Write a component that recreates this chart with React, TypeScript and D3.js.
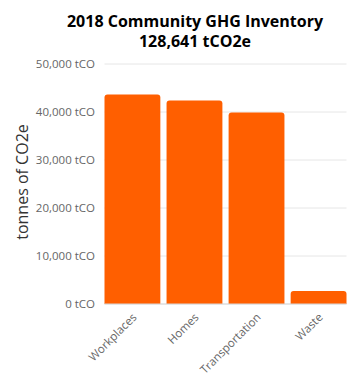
import React from "react";
import * as d3 from "d3";

const categories = ["Workplaces", "Homes", "Transportation", "Waste"];
const values = [43650, 42400, 39900, 2691];
const yTicks = [0, 10000, 20000, 30000, 40000, 50000];
const titleLines = ["2018 Community GHG Inventory", "128,641 tCO2e"];
const yAxisTitle = "tonnes of CO2e";

const W = 360;
const H = 389;
const M = { left: 104.5, right: 13.5, top: 64, bottom: 85 };
const FONT = "'Open Sans', sans-serif";

export default function App() {
  const x = d3
    .scaleBand<string>()
    .domain(categories)
    .range([M.left, W - M.right])
    .paddingInner(0.1)
    .paddingOuter(0);
  const y = d3.scaleLinear().domain([0, 50000]).range([H - M.bottom, M.top]);
  const fmt = d3.format(",");
  const r = 3;

  const barPath = (x0: number, y0: number, w: number, h: number) => {
    const rr = Math.min(r, h / 2, w / 2);
    return `M${x0},${y0 + h}V${y0 + rr}Q${x0},${y0} ${x0 + rr},${y0}H${x0 + w - rr}Q${x0 + w},${y0} ${x0 + w},${y0 + rr}V${y0 + h}Z`;
  };

  return (
    <svg width={W} height={H} style={{ position: "absolute", left: 0, top: 0, background: "#fff" }}>
      <g fontFamily={FONT}>
        {titleLines.map((t, i) => (
          <text key={i} x={195} y={27 + i * 20} textAnchor="middle" fontSize={16} fontWeight="bold" fill="#000">
            {t}
          </text>
        ))}
        {yTicks.map((t) => (
          <g key={t}>
            <line x1={M.left} x2={W - M.right} y1={y(t)} y2={y(t)} stroke="#e6e6e6" strokeWidth={1} />
            <text x={95} y={y(t)} dy="0.35em" textAnchor="end" fontSize={11.5} fill="#666">
              {fmt(t)} tCO
            </text>
          </g>
        ))}
        <text
          transform={`translate(22,${(y(0) + y(50000)) / 2 - 2}) rotate(-90)`}
          textAnchor="middle"
          dy="0.35em"
          fontSize={16}
          fill="#333"
        >
          {yAxisTitle}
        </text>
        {categories.map((c, i) => {
          const x0 = x(c)!;
          const w = x.bandwidth();
          const y0 = y(values[i]);
          return <path key={c} d={barPath(x0, y0, w, y(0) - y0)} fill="#FF5F00" />;
        })}
        <line x1={M.left} x2={W - M.right} y1={y(0)} y2={y(0)} stroke="#d8d8d8" strokeWidth={1} />
        {categories.map((c) => {
          const cx = x(c)! + x.bandwidth() / 2 + 5;
          return (
            <text
              key={c}
              transform={`translate(${cx},${y(0) + 14}) rotate(-45)`}
              textAnchor="end"
              fontSize={11.5}
              fill="#666"
            >
              {c}
            </text>
          );
        })}
      </g>
    </svg>
  );
}
